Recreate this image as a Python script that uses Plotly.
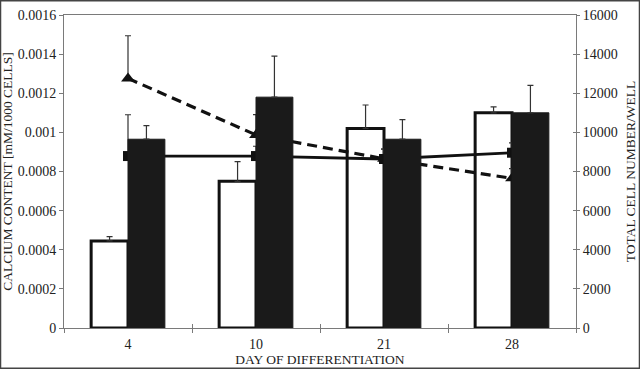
import plotly.graph_objects as go

days = ["4", "10", "21", "28"]
calcium_open = [0.000445, 0.00075, 0.00102, 0.0011]
calcium_open_err = [0.000022, 0.0001, 0.00012, 0.00003]
calcium_solid = [0.000965, 0.00118, 0.000965, 0.0011]
calcium_solid_err = [0.00007, 0.00021, 0.0001, 0.00014]
cells_square = [8790, 8790, 8640, 8960]
cells_square_err = [2110, 500, 500, 500]
cells_triangle = [12760, 9870, 8650, 7650]
cells_triangle_err = [2180, 1040, 500, 500]

left_ticks = [0, 0.0002, 0.0004, 0.0006, 0.0008, 0.001, 0.0012, 0.0014, 0.0016]
left_labels = ["0", "0.0002", "0.0004", "0.0006", "0.0008", "0.001", "0.0012", "0.0014", "0.0016"]
right_ticks = [0, 2000, 4000, 6000, 8000, 10000, 12000, 14000, 16000]

FONT = "Liberation Serif"
BW = 0.288
AX = "#7a7a7a"

fig = go.Figure()
# white bars on main subplot (xy)
fig.add_trace(go.Bar(
    x=days, y=calcium_open, offset=-BW, width=BW,
    marker=dict(color="rgba(0,0,0,0)", line=dict(color="#111", width=3)),
    error_y=dict(type="data", array=calcium_open_err, symmetric=False, arrayminus=[0]*4,
                 color="#333", thickness=1.2, width=3),
    xaxis="x", yaxis="y", showlegend=False))
# lines on x2y2 (right axis)
fig.add_trace(go.Scatter(
    x=days, y=cells_triangle, mode="lines+markers",
    line=dict(color="#111", width=3.2, dash="10px,6px"),
    marker=dict(symbol="triangle-up", size=12, color="#111"),
    error_y=dict(type="data", array=cells_triangle_err, symmetric=False, arrayminus=[0]*4,
                 color="#333", thickness=1.2, width=3),
    xaxis="x2", yaxis="y2", showlegend=False))
fig.add_trace(go.Scatter(
    x=days, y=cells_square, mode="lines+markers",
    line=dict(color="#111", width=2.8),
    marker=dict(symbol="square", size=10, color="#111"),
    error_y=dict(type="data", array=cells_square_err, symmetric=False, arrayminus=[0]*4,
                 color="#333", thickness=1.2, width=3),
    xaxis="x2", yaxis="y2", showlegend=False))
# black bars (x2y3)
fig.add_trace(go.Bar(
    x=days, y=calcium_solid, offset=0, width=BW,
    marker=dict(color="#1a1a1a", line=dict(color="#1a1a1a", width=1)),
    error_y=dict(type="data", array=calcium_solid_err, symmetric=False, arrayminus=[0]*4,
                 color="#333", thickness=1.2, width=3),
    xaxis="x2", yaxis="y3", showlegend=False))

tickfont = dict(family=FONT, size=14, color="#222")
titlefont = dict(family=FONT, size=13.5, color="#222")
fig.update_layout(
    width=640, height=369,
    margin=dict(l=64, r=64, t=15, b=41),
    paper_bgcolor="white", plot_bgcolor="white",
    font=dict(family=FONT, color="#222"),
    xaxis=dict(type="category", range=[-0.5, 3.5], showline=True, linecolor=AX, linewidth=1,
               mirror=True, ticks="outside", ticklen=4, tickcolor=AX, tickson="boundaries",
               tickfont=tickfont, showgrid=False, automargin=False, ticklabelstandoff=3,
               title=dict(text="DAY OF DIFFERENTIATION", font=titlefont, standoff=0)),
    xaxis2=dict(type="category", range=[-0.5, 3.5], overlaying="x", showline=False,
                ticks="inside", ticklen=4, tickcolor=AX, tickson="boundaries",
                showticklabels=False, showgrid=False, automargin=False),
    yaxis=dict(range=[0, 0.0016], tickvals=left_ticks, ticktext=left_labels, showline=True,
               linecolor=AX, linewidth=1, ticks="outside", ticklen=4, tickcolor=AX,
               tickfont=tickfont, showgrid=False, zeroline=False, automargin=False,
               title=dict(text="CALCIUM CONTENT [mM/1000 CELLS]", font=titlefont, standoff=4)),
    yaxis2=dict(range=[0, 16000], tickvals=right_ticks, tickformat="d", overlaying="y", side="right",
                showline=True, linecolor=AX, linewidth=1, ticks="outside", ticklen=3, tickcolor=AX,
                tickfont=tickfont, showgrid=False, zeroline=False, automargin=False,
                title=dict(text="TOTAL CELL NUMBER/WELL", font=titlefont, standoff=8)),
    yaxis3=dict(range=[0, 0.0016], tickvals=left_ticks, overlaying="y", side="right",
                showline=False, ticks="inside", ticklen=3, tickcolor=AX, showticklabels=False,
                showgrid=False, zeroline=False, automargin=False),
    shapes=[dict(type="rect", xref="paper", yref="paper",
                 x0=-64/512 + 0.001, x1=1 + 64/512 - 0.001, y0=-41/313 + 0.002, y1=1 + 15/313 - 0.002,
                 line=dict(color="#444", width=1.5), fillcolor="rgba(0,0,0,0)", layer="above")],
)
fig.write_html("out.html", config={"displayModeBar": False},
               post_script="document.body.style.margin='0';document.body.style.overflow='hidden';")
